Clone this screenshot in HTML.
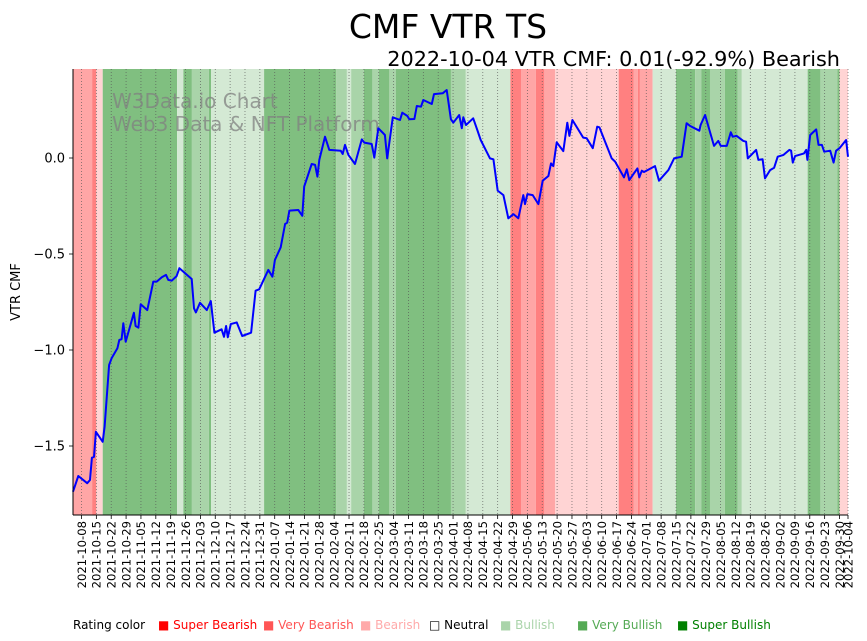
<!DOCTYPE html>
<html><head><meta charset="utf-8"><style>
html,body{margin:0;padding:0;background:#fff;}
svg{display:block;font-family:"DejaVu Sans","Liberation Sans",sans-serif;}
</style></head><body>
<svg id="chart" width="867" height="641" viewBox="0 0 867 641" xmlns="http://www.w3.org/2000/svg">
<text x="448" y="38" font-size="33" text-anchor="middle" fill="#000">CMF VTR TS</text>
<text x="840" y="66" font-size="20.8" text-anchor="end" fill="#000">2022-10-04 VTR CMF: 0.01(-92.9%) Bearish</text>
<g id="bands"></g>
<g id="grid"></g>
<g fill="#808080" fill-opacity="0.75" font-size="20">
<text x="112" y="108">W3Data.io Chart</text>
<text x="112" y="131">Web3 Data &amp; NFT Platform</text>
</g>
<path id="line" fill="none" stroke="#0000ff" stroke-width="2" stroke-linejoin="round"/>
<g id="axes"></g>
<text transform="translate(20,292) rotate(-90)" font-size="13" text-anchor="middle">VTR CMF</text>
<g id="legend" font-size="12"></g>
</svg>
<script>
const dayOffsets=[0,2.5,6.7,8,8.9,9.9,10.8,14,14.9,17,18.2,20.9,21.8,22.9,23.7,24.8,28.7,29.5,30.8,31.9,35,37.8,39.4,41.8,43.8,44.9,46.5,48.8,50.1,55.9,57,57.9,59.8,63,64.9,66.6,70,71.1,72.1,72.9,74.3,77.1,79.7,83.9,86,87.7,92,93.9,95.1,97.8,99.9,100.9,101.9,106.1,108,108.9,112.4,114,115.1,116,118.7,120.7,126.1,127,128.1,129.7,132.8,136,137.2,140.7,141.9,143.8,146.9,148,150.6,154,155.1,157.5,158.4,160.8,161.9,163.9,165,169,170,174.1,176,178,179.1,181.9,183.1,183.8,185.1,188.5,190.4,192,196.4,198,200,202.7,205,207.4,209.7,212.1,212.9,214,216.5,219.2,221.2,223.9,225.1,226.2,227.8,230.9,232.8,233.8,235.2,240.3,241.9,244.8,246.9,247.9,250.6,253.7,255.3,259.5,260.8,262,265.8,266.7,267.9,268.9,274.1,276,280.4,283.1,286.7,289,290.6,295,295.6,297.7,301.9,303.9,305.1,307.9,309.8,310.7,312.6,315.7,317,317.8,321.7,322.8,324.8,325.9,328.3,330.2,331.9,334.6,337.4,338.2,339,340.1,344.3,345.3,345.9,347.2,350,351.1,352.7,353.8,356.6,358.2,359.4,361,364.1,365];
const cmfValues=[-1.738,-1.656,-1.694,-1.677,-1.561,-1.556,-1.426,-1.478,-1.4,-1.078,-1.043,-0.991,-0.948,-0.944,-0.861,-0.957,-0.806,-0.875,-0.884,-0.762,-0.792,-0.644,-0.644,-0.621,-0.609,-0.635,-0.639,-0.615,-0.574,-0.63,-0.783,-0.804,-0.754,-0.792,-0.745,-0.91,-0.892,-0.931,-0.875,-0.934,-0.865,-0.856,-0.927,-0.91,-0.691,-0.684,-0.583,-0.618,-0.531,-0.465,-0.344,-0.337,-0.274,-0.271,-0.301,-0.149,-0.031,-0.036,-0.097,-0.01,0.111,0.042,0.038,0.021,0.068,0.016,-0.031,0.097,0.08,0.073,0.002,0.155,0.12,-0.002,0.212,0.198,0.236,0.219,0.202,0.203,0.271,0.267,0.302,0.281,0.333,0.337,0.354,0.202,0.184,0.224,0.155,0.212,0.172,0.207,0.146,0.094,-0.002,-0.007,-0.17,-0.193,-0.314,-0.292,-0.314,-0.193,-0.24,-0.188,-0.193,-0.24,-0.118,-0.094,-0.028,-0.042,0.082,0.036,0.184,0.115,0.198,0.106,0.103,0.051,0.163,0.16,0.085,-0.002,-0.019,-0.101,-0.059,-0.115,-0.054,-0.101,-0.066,-0.073,-0.042,-0.118,-0.063,-0.002,0.007,0.181,0.167,0.142,0.172,0.224,0.063,0.089,0.063,0.063,0.134,0.111,0.115,0.089,0.085,-0.002,0.042,-0.01,-0.007,-0.106,-0.063,-0.051,0.007,0.016,0.042,0.038,-0.024,0.01,0.024,0.042,-0.01,0.12,0.149,0.068,0.068,0.033,0.038,-0.024,0.038,0.051,0.094,0.007];
const bandStarts=[0,9,11,14,49,52,56,64,65,90,124,129,131,137,141,144,149,152,178,185,206,211,218,222,227,257,264,266,267,273,284,293,296,300,307,313,315,346,352,360,361];
const bandRatings=[1,0,2,6,4,6,5,6,4,6,5,4,5,6,5,6,5,6,5,4,0,1,0,1,2,0,1,0,1,4,6,5,6,5,6,5,4,6,5,6,2];
const yTickValues=[-1.5,-1.0,-0.5,0.0];
const yTickLabels=["\u22121.5","\u22121.0","\u22120.5","0.0"];
const ratingNames=["Super Bearish","Very Bearish","Bearish","Neutral","Bullish","Very Bullish","Super Bullish"];
const ratingColors=["#ff8080","#ffa6a6","#ffd4d4","#ffffff","#d4e9d4","#a9d4a9","#80bf80"];
const legendTextColors=["#ff0000","#ff5555","#ffaaaa","#000000","#aad4aa","#55aa55","#008000"];
const totalDays=365, firstTickDay=4, tickStep=7;

const NS="http://www.w3.org/2000/svg";
const X0=73,X1=848,Y0=69,Y1=515;
const xs=d=>X0+d*(X1-X0)/totalDays;
const ys=v=>158-v*192;
function mk(tag,attrs,parent){const e=document.createElementNS(NS,tag);for(const k in attrs)e.setAttribute(k,attrs[k]);parent.appendChild(e);return e;}

const bands=document.getElementById('bands');
bandStarts.forEach((s,i)=>{
  const e=i+1<bandStarts.length?bandStarts[i+1]:totalDays;
  const r=mk('rect',{x:xs(s),y:Y0,width:xs(e)-xs(s),height:Y1-Y0,fill:ratingColors[bandRatings[i]]},bands);
  
  
});

const base=Date.UTC(2021,9,4);
function lbl(d){const t=new Date(base+d*86400000);return t.toISOString().slice(0,10);}
const grid=document.getElementById('grid');
const axes=document.getElementById('axes');
const tickDays=[];
for(let d=firstTickDay;d<=totalDays;d+=tickStep)tickDays.push(d);
tickDays.push(totalDays);
tickDays.forEach(d=>{
  const x=xs(d);
  const g=mk('line',{x1:x,x2:x,y1:Y0,y2:Y1,stroke:'#555','stroke-width':0.8,'stroke-dasharray':'1,2','stroke-opacity':0.8},grid);
  
  
  const t=mk('line',{x1:x,x2:x,y1:Y1,y2:Y1+4,stroke:'#000','stroke-width':0.8},axes);
  
  
  const tx=mk('text',{transform:`translate(${x+4.3},${Y1+6}) rotate(-90)`,'font-size':11.6,'text-anchor':'end'},axes);
  tx.textContent=lbl(d);
  
  
});
yTickValues.forEach((v,i)=>{
  const y=ys(v);
  const t=mk('line',{x1:X0-4,x2:X0,y1:y,y2:y,stroke:'#000','stroke-width':0.8},axes);
  
  
  const tx=mk('text',{x:X0-8,y:y+4.5,'font-size':13,'text-anchor':'end'},axes);
  tx.textContent=yTickLabels[i];
  
  
});
const ls=mk('line',{x1:X0,x2:X0,y1:Y0,y2:Y1,stroke:'#000','stroke-width':1},axes);


const bs=mk('line',{x1:X0,x2:X1,y1:Y1,y2:Y1,stroke:'#000','stroke-width':1},axes);



document.getElementById('line').setAttribute('d',dayOffsets.map((d,i)=>(i?'L':'M')+xs(d).toFixed(1)+','+ys(cmfValues[i]).toFixed(1)).join(''));

const leg=document.getElementById('legend');
const lt=mk('text',{x:73,y:629,fill:'#000'},leg);
lt.textContent='Rating color';


const legX=[158,263,360,429,500,577,677];
ratingNames.forEach((n,i)=>{
  const t=mk('text',{x:legX[i],y:629,fill:legendTextColors[i]},leg);
  t.textContent=(i===3?'\u25A1 ':'\u25A0 ')+n;
  
  
});
</script>
</body></html>
